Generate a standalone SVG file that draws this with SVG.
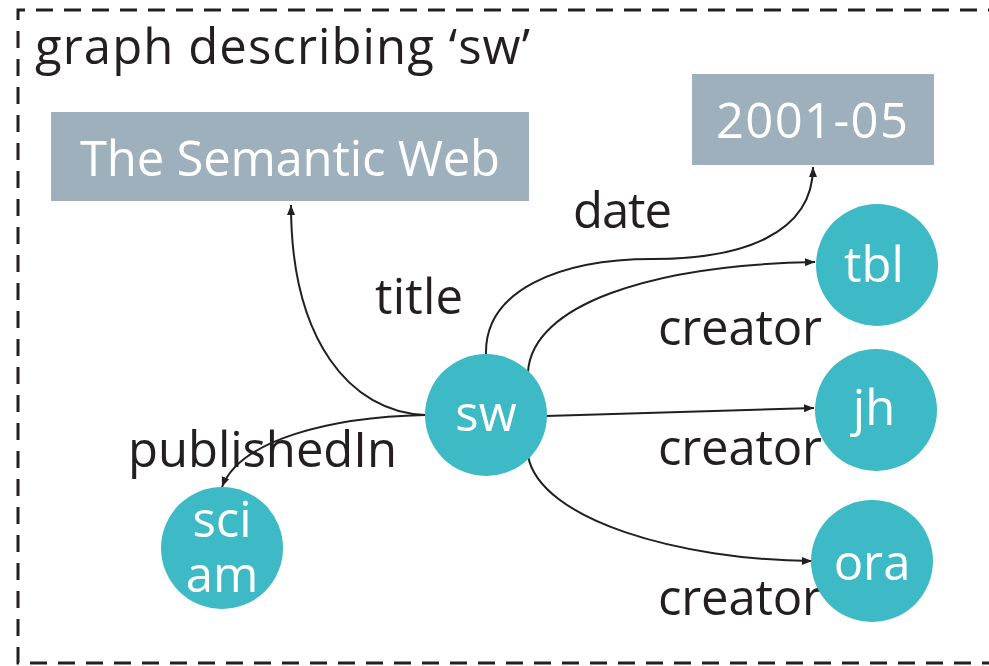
<svg xmlns="http://www.w3.org/2000/svg" width="989" height="666" viewBox="0 0 989 666">
  <style>
    .frame { fill: none; stroke: #231f20; stroke-width: 3; stroke-dasharray: 17 11; }
    .lit { fill: #9eb0bc; }
    .res { fill: #3dbac6; }
    .in { fill: #ffffff; font-family: "Open Sans", "DejaVu Sans", sans-serif; font-size: 49px; text-anchor: middle; }
    .lbl { fill: #231f20; font-family: "Open Sans", "DejaVu Sans", sans-serif; font-size: 49px; }
    .edge { fill: none; stroke: #231f20; stroke-width: 2; marker-end: url(#arrow); }
  </style>
  <defs>
    <marker id="arrow" viewBox="0 0 10 10" refX="10" refY="5" markerWidth="10" markerHeight="10" markerUnits="userSpaceOnUse" orient="auto">
      <path d="M0,1 L10,5 L0,9 Z" fill="#231f20"/>
    </marker>
  </defs>
  <rect width="989" height="666" fill="#ffffff"/>

  <!-- dashed named-graph boundary -->
  <path class="frame" d="M1005,10 L18,10 L18,663 L1005,663"/>
  <text class="lbl" x="35" y="64" textLength="495">graph describing ‘sw’</text>

  <!-- connectors -->
  <g id="edges">
    <path class="edge" d="M425,415 C350,412 291,340 291,205"/>
    <path class="edge" d="M425,415 C330,417 240,440 222,487"/>
    <path class="edge" d="M486,355 C484,290 560,259 653,259 C740,259 813,235 813,167"/>
    <path class="edge" d="M528,372 C532,305 650,265 815,262"/>
    <path class="edge" d="M546,416 L814,408"/>
    <path class="edge" d="M528,456 C540,520 680,560 812,561"/>
  </g>

  <!-- edge labels -->
  <g id="labels">
    <text class="lbl" x="375" y="314" textLength="88">title</text>
    <text class="lbl" x="573" y="228" textLength="99">date</text>
    <text class="lbl" x="658" y="345" textLength="164">creator</text>
    <text class="lbl" x="658" y="465" textLength="164">creator</text>
    <text class="lbl" x="658" y="615" textLength="164">creator</text>
    <text class="lbl" x="128" y="467" textLength="269">publishedIn</text>
  </g>

  <!-- nodes -->
  <g id="node-title">
    <rect class="lit" x="51" y="112" width="478" height="89"/>
    <text class="in" x="290" y="176" textLength="420">The Semantic Web</text>
  </g>
  <g id="node-date">
    <rect class="lit" x="692" y="74" width="242" height="91"/>
    <text class="in" x="812" y="138" textLength="192">2001-05</text>
  </g>
  <g id="node-sw">
    <circle class="res" cx="486" cy="415" r="61"/>
    <text class="in" x="486" y="431">sw</text>
  </g>
  <g id="node-tbl">
    <circle class="res" cx="877" cy="265" r="61"/>
    <text class="in" x="874" y="282">tbl</text>
  </g>
  <g id="node-jh">
    <circle class="res" cx="876" cy="410" r="61"/>
    <text class="in" x="874" y="425">jh</text>
  </g>
  <g id="node-ora">
    <circle class="res" cx="872" cy="561" r="61"/>
    <text class="in" x="872" y="580">ora</text>
  </g>
  <g id="node-sciam">
    <circle class="res" cx="222" cy="548" r="61"/>
    <text class="in" x="222" y="537">sci</text>
    <text class="in" x="222" y="592">am</text>
  </g>
</svg>
